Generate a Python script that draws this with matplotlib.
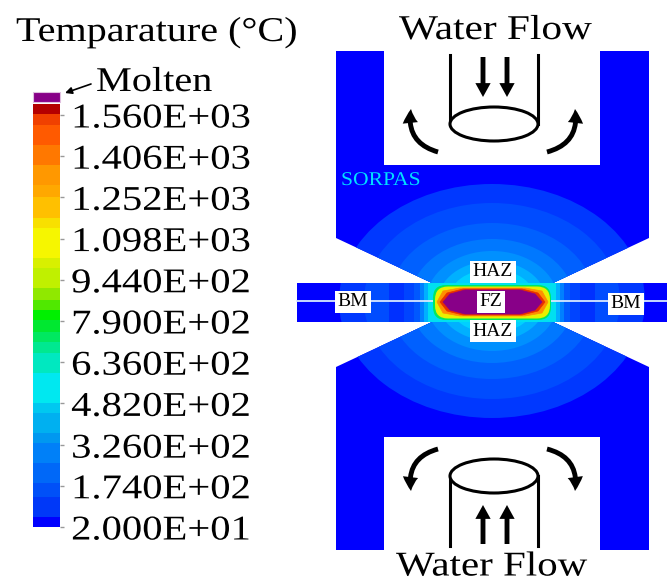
import matplotlib
matplotlib.use("Agg")
import matplotlib.pyplot as plt
from matplotlib.patches import Polygon, Ellipse, Rectangle, FancyBboxPatch, FancyArrowPatch
from matplotlib.patheffects import AbstractPathEffect
from matplotlib.transforms import Affine2D

plt.rcParams['font.family'] = ['Liberation Serif', 'DejaVu Sans']


# The reference lettering is wider than the font, so stretch glyphs sideways
class StretchX(AbstractPathEffect):
    def __init__(self, sx):
        super().__init__()
        self.sx = sx

    def draw_path(self, renderer, gc, tpath, affine, rgbFace=None):
        renderer.draw_path(gc, tpath, Affine2D().scale(self.sx, 1) + affine, rgbFace)


# Colour scale
tick_values = [1560, 1406, 1252, 1098, 944, 790, 636, 482, 326, 174, 20]
tick_labels = ["1.560E+03", "1.406E+03", "1.252E+03", "1.098E+03", "9.440E+02", "7.900E+02",
               "6.360E+02", "4.820E+02", "3.260E+02", "1.740E+02", "2.000E+01"]
band_edges = [1601, 1564, 1523, 1448, 1373, 1298, 1254, 1175, 1138, 1026, 988, 913, 869, 831, 794,
              749, 712, 670, 596, 484, 446, 371, 334, 259, 184, 132, 57, 20]
band_colors = ['#b40000', '#f04000', '#ff5a00', '#ff7800', '#ff9800', '#ffa800', '#ffc000', '#f8e000',
               '#f6f600', '#d8f000', '#c0f000', '#90e800', '#50e800', '#00f000', '#00e830', '#00e860',
               '#00e890', '#00e8c0', '#00e8f0', '#00c8f0', '#00b0f0', '#0098f0', '#0080f8', '#0068f8',
               '#0050f8', '#0038f8', '#0000ff']
molten_color = '#880088'

# Temperature bands in the electrodes and in the sheet, outer to inner
electrode_a = [153, 128, 103, 82, 66, 54, 44]
electrode_b = [117, 98, 78, 62, 50, 40, 32]
electrode_colors = ['#0038ff', '#004cff', '#0060ff', '#0078ff', '#0090ff', '#00b0ff', '#00d0ff']
sheet_half = [103, 88, 78, 72, 68, 64]
sheet_colors = ['#0030ff', '#0044ff', '#0058ff', '#0080ff', '#00b0ff', '#00e0f0']

# Weld nugget outlines, outer to inner
green_box = (433, 285, 118, 35)
yellow_box = (435, 286.5, 115, 32)
orange_zone = [(437, 302), (443, 291), (460, 288), (525, 288), (542, 291), (548, 302),
               (542, 313), (525, 316), (460, 316), (443, 313)]
red_zone = [(440, 302), (447, 293), (463, 289), (522, 289), (538, 293), (545, 302),
            (538, 311), (522, 315), (463, 315), (447, 311)]
fusion_zone = [(443, 302), (450, 294), (465, 290), (520, 290), (535, 294), (542, 302),
               (535, 310), (520, 314), (465, 314), (450, 310)]

fig = plt.figure(figsize=(6.67, 5.83), dpi=100)
ax = fig.add_axes([0, 0, 1, 1])
ax.set_xlim(0, 667)
ax.set_ylim(583, 0)
ax.axis('off')

# Electrodes and sheet outline
body = [(336, 51), (384, 51), (384, 165), (600, 165), (600, 51), (649, 51), (649, 238), (553, 283),
        (667, 283), (667, 322), (553, 322), (649, 367), (649, 550), (600, 550), (600, 437), (384, 437),
        (384, 550), (336, 550), (336, 367), (432, 322), (297, 322), (297, 283), (432, 283), (336, 238)]
outline = Polygon(body, closed=True, facecolor='#0000ff', edgecolor='none', zorder=1)
ax.add_patch(outline)

for a, b, c in zip(electrode_a, electrode_b, electrode_colors):
    e = Ellipse((492, 301), 2 * a, 2 * b, facecolor=c, edgecolor='none', zorder=2)
    ax.add_patch(e)
    e.set_clip_path(outline)

for h, c in zip(sheet_half, sheet_colors):
    ax.add_patch(Rectangle((492 - h, 283), 2 * h, 39, facecolor=c, edgecolor='none', zorder=3))

# Weld nugget
for (x, y, w, h), c in [(green_box, '#00e860'), (yellow_box, '#e8f000')]:
    ax.add_patch(FancyBboxPatch((x + 9, y + 9), w - 18, h - 18, boxstyle="round,pad=9,rounding_size=13",
                                facecolor=c, edgecolor='none', zorder=4))
for zone, c in [(orange_zone, '#ff9000'), (red_zone, '#e83000'), (fusion_zone, molten_color)]:
    ax.add_patch(Polygon(zone, closed=True, facecolor=c, edgecolor=c, lw=0.5, zorder=5))

# Faying line
ax.plot([297, 436], [301, 301], color='#d8e8ff', lw=1.3, zorder=3.5)
ax.plot([549, 667], [301, 301], color='#d8e8ff', lw=1.3, zorder=3.5)

box = dict(facecolor='white', edgecolor='none', pad=2)
for x, y, s in [(353, 302, 'BM'), (626, 304, 'BM'), (493, 272, 'HAZ'), (493, 331, 'HAZ'), (491, 302, 'FZ')]:
    ax.text(x, y, s, fontsize=14, ha='center', va='center', bbox=box, zorder=6)

ax.text(341, 185, 'SORPAS', color='#00e0ff', fontsize=14, ha='left', va='baseline', zorder=6,
        path_effects=[StretchX(1.11)])

# Water nozzles
for y_rim, y_end in [(124, 55), (476, 546)]:
    ax.plot([450, 450], [y_end, y_rim], color='black', lw=2.2, zorder=6)
    ax.plot([538, 538], [y_end, y_rim], color='black', lw=2.2, zorder=6)
    ax.add_patch(Ellipse((494, y_rim), 88, 34, facecolor='white', edgecolor='black', lw=2.2, zorder=6))

straight_style = 'simple,head_width=11,head_length=10,tail_width=3.5'
for x in [483, 507]:
    ax.add_patch(FancyArrowPatch((x, 57), (x, 97), arrowstyle=straight_style,
                                 color='black', lw=0, shrinkA=0, shrinkB=0, zorder=6))
    ax.add_patch(FancyArrowPatch((x, 544), (x, 505), arrowstyle=straight_style,
                                 color='black', lw=0, shrinkA=0, shrinkB=0, zorder=6))

curved = [((438, 152), (411, 109), -0.45), ((547, 152), (575, 109), 0.45),
          ((438, 449), (411, 491), 0.45), ((547, 449), (575, 491), -0.45)]
for start, end, rad in curved:
    ax.add_patch(FancyArrowPatch(start, end, connectionstyle=f"arc3,rad={rad}",
                                 arrowstyle=straight_style,
                                 color='black', lw=0, shrinkA=0, shrinkB=0, zorder=6))

ax.text(399, 39, 'Water Flow', fontsize=25, ha='left', va='baseline', path_effects=[StretchX(1.19)])
ax.text(396, 575.5, 'Water Flow', fontsize=25, ha='left', va='baseline', path_effects=[StretchX(1.18)])

# Colour bar, on its own value axis
bar_ax = fig.add_axes([33 / 667, 1 - 527 / 583, 27 / 667, 423 / 583])
bar_ax.set_xlim(0, 1)
bar_ax.set_ylim(20, 1601)
for i, c in enumerate(band_colors):
    bar_ax.barh(band_edges[i + 1], 1, height=band_edges[i] - band_edges[i + 1], align='edge', color=c, lw=0)
bar_ax.set_xticks([])
bar_ax.set_yticks(tick_values)
bar_ax.yaxis.tick_right()
bar_ax.set_yticklabels(tick_labels, fontsize=25)
for label in bar_ax.get_yticklabels():
    label.set_path_effects([StretchX(1.17)])
bar_ax.tick_params(axis='y', length=3, width=1, color='#999999', pad=5)
for s in bar_ax.spines.values():
    s.set_visible(False)

ax.add_patch(Rectangle((33, 92), 27, 10, facecolor=molten_color, edgecolor='#e0c0e0', lw=0.8))
ax.annotate('', xy=(65, 93), xytext=(91, 84),
            arrowprops=dict(arrowstyle='-|>', color='black', lw=1.2, shrinkA=0, shrinkB=0))
ax.text(96, 91, 'Molten', fontsize=25, ha='left', va='baseline', path_effects=[StretchX(1.16)])
ax.text(16, 41, 'Temparature (°C)', fontsize=25, ha='left', va='baseline', path_effects=[StretchX(1.155)])

fig.savefig("out.png", dpi=100)
